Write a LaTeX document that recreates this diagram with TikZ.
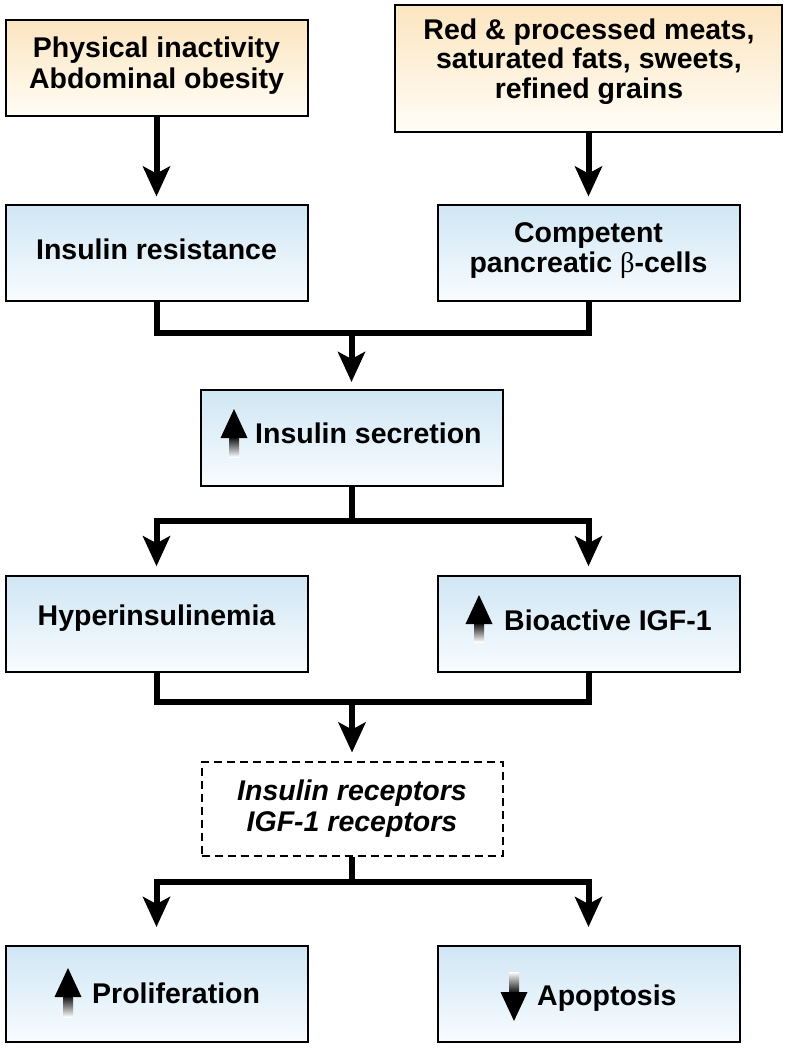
\documentclass[tikz,border=0pt]{standalone}
\usepackage{fontspec}
\setmainfont{Liberation Sans}
\newfontfamily\betafont{Liberation Serif}
\usetikzlibrary{arrows.meta}
\definecolor{ytop}{RGB}{252,229,192}
\definecolor{ybot}{RGB}{255,253,246}
\definecolor{btop}{RGB}{208,230,244}
\definecolor{bbot}{RGB}{248,252,255}
\newcommand{\gradup}[3]{%
  \shade[top color=black,bottom color=white] ({#1-5},{#2+27}) rectangle ({#1+5},#3);
  \fill[black] (#1,#2) -- ({#1+13.5},{#2+29}) -- ({#1-13.5},{#2+29}) -- cycle;}
\newcommand{\graddown}[3]{%
  \shade[top color=white,bottom color=black] ({#1-5},#2) rectangle ({#1+5},{#3-27});
  \fill[black] (#1,#3) -- ({#1+13.5},{#3-29}) -- ({#1-13.5},{#3-29}) -- cycle;}
\tikzset{
  box/.style={draw=black, line width=2pt, minimum width=302pt, minimum height=96pt, inner sep=0pt},
  ybox/.style={box, top color=ytop, bottom color=ybot},
  bbox/.style={box, top color=btop, bottom color=bbot},
  dbox/.style={draw=black, line width=2pt, dash pattern=on 8pt off 5pt, minimum width=301pt, minimum height=94pt, inner sep=0pt},
  lbl/.style={font=\fontsize{28.5pt}{31pt}\selectfont\bfseries, align=center, inner sep=0pt},
  link/.style={line width=6pt},
  conn/.style={link, -{Stealth[length=30pt,width=27pt,inset=7pt]}, shorten >=7pt},
}
\begin{document}
\begin{tikzpicture}[x=1pt,y=-1pt]
\fill[white] (0,0) rectangle (788,1050);
\useasboundingbox (0,0) rectangle (788,1050);
% boxes
\node[ybox, minimum height=96pt] (phys) at (156.5,68) {};
\node[ybox, minimum width=387pt, minimum height=127pt] (meat) at (588.5,68) {};
\node[bbox] (ir) at (156.5,252.5) {};
\node[bbox] (comp) at (588.5,252.5) {};
\node[bbox] (sec) at (351.5,438) {};
\node[bbox] (hyper) at (156.5,623.75) {};
\node[bbox] (igf) at (588.5,623.75) {};
\node[dbox] (rec) at (352,808.5) {};
\node[bbox] (prol) at (156.5,994) {};
\node[bbox] (apop) at (588.5,994) {};
% texts
\node[lbl] (tphys) at (156.5,65.3) {Physical inactivity\\Abdominal obesity};
\node[lbl, font=\fontsize{28.5pt}{29.5pt}\selectfont\bfseries] (tmeat) at (589,61.5) {Red \& processed meats,\\saturated fats, sweets,\\refined grains};
\node[lbl, anchor=base] (tir) at (156.5,259) {Insulin resistance};
\node[lbl, font=\fontsize{28.5pt}{30pt}\selectfont\bfseries] (tcomp) at (588.5,251) {Competent\\pancreatic {\betafont\mdseries β}-cells};
\node[lbl, anchor=base west] (tsec) at (255,443) {Insulin secretion};
\node[lbl, anchor=base] (thyper) at (156.5,625) {Hyperinsulinemia};
\node[lbl, anchor=base west] (tigf) at (504,630) {Bioactive IGF-1};
\node[lbl, font=\fontsize{28.5pt}{31pt}\selectfont\bfseries\itshape] (trec) at (352,808.2) {Insulin receptors\\IGF-1 receptors};
\node[lbl, anchor=base west] (tprol) at (92,1003) {Proliferation};
\node[lbl, anchor=base west] (tapop) at (537,1005) {Apoptosis};
% gradient arrows
\gradup{234}{409}{457}
\gradup{479}{595}{642}
\gradup{68}{968}{1017}
\graddown{514}{972}{1021}
% junctions
\coordinate (j1) at (351.5,333);
\coordinate (j2) at (351.5,520.5);
\coordinate (j3) at (352,702);
\coordinate (j4) at (352,882);
% connectors
\draw[conn] (phys.south) -- (ir.north);
\draw[conn] (meat.south) -- (comp.north);
\draw[link] (ir.south) |- (j1) -| (comp.south);
\draw[conn] (j1) -- (sec.north);
\draw[link] (sec.south) -- (j2);
\draw[conn, shorten >=8.5pt] (j2) -| (hyper.north);
\draw[conn, shorten >=8.5pt] (j2) -| (igf.north);
\draw[link] (hyper.south) |- (j3) -| (igf.south);
\draw[conn, shorten >=8pt] (j3) -- (rec.north);
\draw[link] (rec.south) -- (j4);
\draw[conn, shorten >=18pt] (j4) -| (prol.north);
\draw[conn, shorten >=18pt] (j4) -| (apop.north);
\end{tikzpicture}
\end{document}
